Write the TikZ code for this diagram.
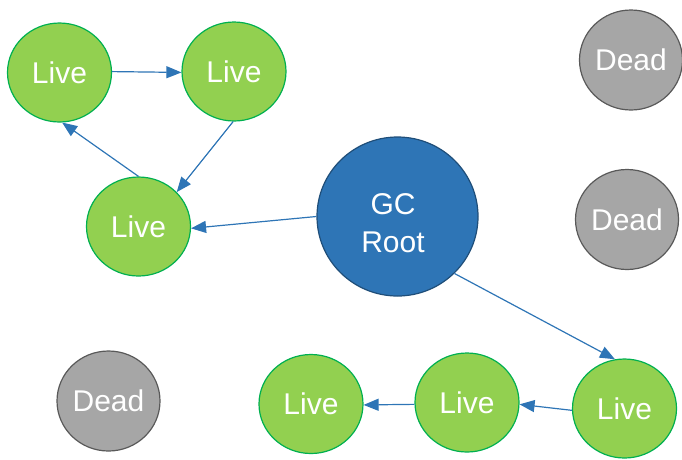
\documentclass[tikz,border=0pt]{standalone}
\usepackage{fontspec}
\setmainfont{Liberation Sans}
\usetikzlibrary{arrows.meta,shapes.geometric}
\definecolor{livefill}{HTML}{92D050}
\definecolor{livedraw}{HTML}{00B050}
\definecolor{rootfill}{HTML}{2E75B6}
\definecolor{rootdraw}{HTML}{1F4E79}
\definecolor{deadfill}{HTML}{A6A6A6}
\definecolor{deaddraw}{HTML}{595959}
\definecolor{arr}{HTML}{2E75B6}
\tikzset{
  txt/.style={inner sep=0pt, text=white, font=\fontsize{30}{38}\selectfont, align=center},
  obj/.style={ellipse, inner sep=0pt, line width=1.2pt, txt},
  live/.style={obj, fill=livefill, draw=livedraw, minimum width=104pt, minimum height=99pt},
  dead/.style={obj, fill=deadfill, draw=deaddraw, minimum width=103pt, minimum height=100pt},
  root/.style={obj, fill=rootfill, draw=rootdraw, minimum width=161pt, minimum height=159pt},
  ref/.style={draw=arr, line width=1.2pt, -{Triangle[length=15pt,width=12pt]}}
}
\begin{document}
\begin{tikzpicture}[x=1pt,y=-1pt]
\useasboundingbox (0,0) rectangle (682,459);
\node[live] (L1) at (59.5,72.5) {Live};
\node[live] (L2) at (234,71.5) {Live};
\node[live] (L3) at (138.5,226.5) {Live};
\node[root] (GC) at (397.5,216.5) {};
\node[txt] (GCt) at (393,223) {GC\\Root};
\node[dead] (D1) at (631,60) {Dead};
\node[dead] (D2) at (627,219.5) {Dead};
\node[dead] (D3) at (108.5,401) {Dead};
\node[live] (L4) at (311,404) {Live};
\node[live] (L5) at (467,402.5) {Live};
\node[live] (L6) at (624.5,408.5) {Live};
\draw[ref] (L1.1) -- (L2.181);
\draw[ref] (L2.-91) -- (L3.42);
\draw[ref] (L3.90) -- (L1.-87);
\draw[ref] (GC.180) -- (L3.-2);
\draw[ref] (GC.-45) -- (L6.101);
\draw[ref] (L6.-178) -- (L5.-2);
\draw[ref] (L5.-178) -- (L4.-1);
\end{tikzpicture}
\end{document}
